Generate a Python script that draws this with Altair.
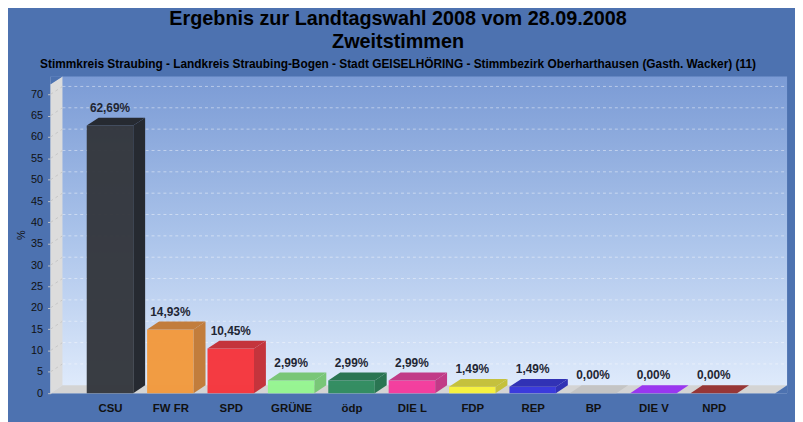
import json
import pandas as pd
import altair as alt

# -----------------------------
# 1. Data
# -----------------------------
parties = ["CSU", "FW FR", "SPD", "GRÜNE", "ödp", "DIE L", "FDP", "REP", "BP", "DIE V", "NPD"]
shares = [62.69, 14.93, 10.45, 2.99, 2.99, 2.99, 1.49, 1.49, 0.00, 0.00, 0.00]
y_ticks = list(range(0, 75, 5))

# palette: front face and shaded (top / side) face
front_colors = ["#34373d", "#f2993d", "#f5353c", "#95f590", "#2e8a5e", "#f43a9c",
                "#f7f23a", "#3636dc", "#c4c4c4", "#9a37f0", "#973636"]
shade_colors = ["#262a31", "#c27d3c", "#c4343c", "#79c677", "#2a7552", "#c13a87",
                "#c5c13d", "#3132b5", "#c4c4c4", "#9a37f0", "#973636"]

# -----------------------------
# 2. 3D look (axis units)
# -----------------------------
Y_MAX = 74.2
X_MIN, X_MAX = -0.984, 11.213
HALF = 0.385    # half bar width
DX = 0.197      # depth, x
DY = 1.85       # depth, y
PANEL = "#4d72b0"
FONT = "Liberation Sans"

df = pd.DataFrame({"party": parties, "share": shares, "fill": front_colors})
df["i"] = range(len(df))
df["x0"] = df["i"] - HALF
df["x1"] = df["i"] + HALF
df["label"] = df["share"].map(lambda v: f"{v:.2f}".replace(".", ",") + "%")
df["ly"] = df["share"] + DY

# top and side faces as small polygons
rows = []
for i, (p, v, c) in enumerate(zip(parties, shares, shade_colors)):
    x0, x1 = i - HALF, i + HALF
    k = f"{p}-top"
    rows += [
        dict(key=k, fill=c, x=x0, y=v, y2=v),
        dict(key=k, fill=c, x=x0 + DX, y=v, y2=v + DY),
        dict(key=k, fill=c, x=x1, y=v, y2=v + DY),
        dict(key=k, fill=c, x=x1 + DX, y=v + DY, y2=v + DY),
    ]
    if v > 0:
        k = f"{p}-side"
        rows += [
            dict(key=k, fill=c, x=x1, y=0, y2=v),
            dict(key=k, fill=c, x=x1 + DX, y=DY, y2=v + DY),
        ]
faces = pd.DataFrame(rows)

# left wall, floor and panel corners
frame = pd.DataFrame([
    dict(key="wall", fill="#dcdcdc", x=X_MIN, y=0, y2=Y_MAX - DY),
    dict(key="wall", fill="#dcdcdc", x=X_MIN + DX, y=DY, y2=Y_MAX),
    dict(key="floor", fill="#d4d4d4", x=X_MIN, y=0, y2=0),
    dict(key="floor", fill="#d4d4d4", x=X_MIN + DX, y=0, y2=DY),
    dict(key="floor", fill="#d4d4d4", x=X_MAX - DX, y=0, y2=DY),
    dict(key="floor", fill="#d4d4d4", x=X_MAX, y=DY, y2=DY),
    dict(key="c1", fill=PANEL, x=X_MIN, y=Y_MAX - DY, y2=Y_MAX),
    dict(key="c1", fill=PANEL, x=X_MIN + DX, y=Y_MAX, y2=Y_MAX),
    dict(key="c2", fill=PANEL, x=X_MAX - DX, y=0, y2=0),
    dict(key="c2", fill=PANEL, x=X_MAX, y=0, y2=DY),
])
back = pd.DataFrame([dict(x=X_MIN, x2=X_MAX, y=0, y2=Y_MAX)])

grid = pd.DataFrame({"v": y_ticks[1:]})
grid["vb"] = grid["v"] + DY
grid["xa"] = X_MIN
grid["xb"] = X_MIN + DX
grid["xr"] = X_MAX

xs = alt.Scale(domain=[X_MIN, X_MAX], nice=False, zero=False)
ys = alt.Scale(domain=[0, Y_MAX], nice=False)

label_expr = json.dumps(parties, ensure_ascii=False) + "[datum.value]"
x_axis = alt.Axis(values=list(range(len(parties))), labelExpr=label_expr,
                  grid=False, domain=False, ticks=False, labelPadding=9,
                  labelFont=FONT, labelFontSize=11.5, labelFontWeight="bold",
                  labelColor="#111111")
y_axis = alt.Axis(values=y_ticks, grid=False, domainColor="#c8c8c8",
                  tickColor="#c8c8c8", tickSize=3, labelPadding=5,
                  labelFont=FONT, labelFontSize=11, labelColor="#111111",
                  titleFont=FONT, titleFontSize=11, titleFontWeight="normal",
                  titleColor="#111111", titlePadding=4)


def X(field):
    return alt.X(field, scale=xs, axis=x_axis, title=None)


def Y(field, **kw):
    return alt.Y(field, scale=ys, axis=y_axis, title="%", **kw)


# -----------------------------
# 3. Layers
# -----------------------------
back_wall = alt.Chart(back).mark_rect(
    fill=alt.LinearGradient(
        gradient="linear", x1=0, y1=0, x2=0, y2=1,
        stops=[alt.GradientStop(color="#7b9bd5", offset=0),
               alt.GradientStop(color="#aac3ea", offset=0.5),
               alt.GradientStop(color="#e1ecfc", offset=1)],
    )
).encode(x=X("x:Q"), x2="x2:Q", y=Y("y:Q"), y2="y2:Q")

walls = alt.Chart(frame).mark_area().encode(
    x=X("x:Q"), y=Y("y:Q", stack=None), y2="y2:Q",
    detail="key:N", color=alt.Color("fill:N", scale=None),
)

back_grid = alt.Chart(grid).mark_rule(color="#ffffff", opacity=0.45, strokeDash=[3, 3]).encode(
    x=X("xb:Q"), x2="xr:Q", y=Y("vb:Q"),
)
wall_grid = alt.Chart(grid).mark_rule(color="#b8b8b8", opacity=0.6, strokeDash=[3, 3]).encode(
    x=X("xa:Q"), x2="xb:Q", y=Y("v:Q"), y2="vb:Q",
)

fronts = alt.Chart(df).mark_rect(opacity=0.97).encode(
    x=X("x0:Q"), x2="x1:Q", y=Y("share:Q"), y2=alt.datum(0),
    color=alt.Color("fill:N", scale=None),
)

shade = alt.Chart(faces).mark_area().encode(
    x=X("x:Q"), y=Y("y:Q", stack=None), y2="y2:Q",
    detail="key:N", color=alt.Color("fill:N", scale=None),
)

labels = alt.Chart(df).mark_text(
    baseline="bottom", dy=-3, font=FONT, fontSize=12, fontWeight="bold", color="#1f2633"
).encode(x=X("i:Q"), y=Y("ly:Q"), text="label:N")

chart = alt.layer(back_wall, walls, wall_grid, back_grid, fronts, shade, labels).properties(
    width=744,
    height=320,
    padding={"left": 43, "top": 67, "right": 8, "bottom": 27},
    autosize=alt.AutoSizeParams(type="none"),
    background=PANEL,
    title=alt.TitleParams(
        text=["Ergebnis zur Landtagswahl 2008 vom 28.09.2008", "Zweitstimmen"],
        subtitle="Stimmkreis Straubing - Landkreis Straubing-Bogen - Stadt GEISELHÖRING - "
                 "Stimmbezirk Oberharthausen (Gasth. Wacker) (11)",
        anchor="middle", dx=-21, offset=6,
        font=FONT, fontSize=20, fontWeight="bold", color="#000000", lineHeight=23,
        subtitleFont=FONT, subtitleFontSize=12, subtitleFontWeight="bold",
        subtitleColor="#000000", subtitlePadding=8,
    ),
).configure_view(stroke=None)

chart.save("out.html", embed_options={"renderer": "svg", "actions": False})
print("saved")
